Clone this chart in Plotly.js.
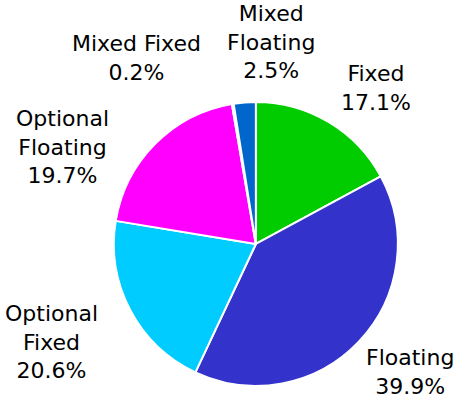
<!DOCTYPE html>
<html><head><meta charset="utf-8">
<script src="https://cdn.plot.ly/plotly-3.0.1.min.js"></script>
<style>html,body{margin:0;padding:0;background:#fff}#chart{width:461px;height:398px}</style>
</head><body><div id="chart"></div>
<script>
const categories = ["Fixed", "Floating", "Optional Fixed", "Optional Floating", "Mixed Fixed", "Mixed Floating"];
const labelText = ["Fixed", "Floating", "Optional<br>Fixed", "Optional<br>Floating", "Mixed Fixed", "Mixed<br>Floating"];
const values = [17.1, 39.9, 20.6, 19.7, 0.2, 2.5];
const colors = ["#00cc00", "#3333cc", "#00ccff", "#ff00ff", "#ff9900", "#0066cc"];

// label block centres (layout, in pixels of the 461x398 page)
const W = 461, H = 398;
const labelPos = [[376, 88], [410, 372], [51, 342], [63, 147], [136, 58], [271, 42]];

const total = values.reduce((a, b) => a + b, 0);
const annotations = categories.map((c, i) => ({
  xref: "paper", yref: "paper",
  x: labelPos[i][0] / W, y: 1 - labelPos[i][1] / H,
  xanchor: "center", yanchor: "middle", align: "center",
  showarrow: false,
  text: labelText[i] + "<br>" + (values[i] / total * 100).toFixed(1) + "%",
  font: {family: "DejaVu Sans", size: 22, color: "#000000"}
}));

Plotly.newPlot("chart", [{
  type: "pie",
  labels: categories,
  values: values,
  sort: false,
  direction: "clockwise",
  rotation: 0,
  marker: {colors: colors, line: {color: "#ffffff", width: 2}},
  textinfo: "none",
  hoverinfo: "none",
  domain: {x: [0.247, 0.863], y: [0.030, 0.744]}
}], {
  width: W, height: H,
  margin: {l: 0, r: 0, t: 0, b: 0},
  showlegend: false,
  paper_bgcolor: "#ffffff",
  font: {family: "DejaVu Sans", size: 22, color: "#000000"},
  annotations: annotations
}, {displayModeBar: false, staticPlot: true});
</script></body></html>
